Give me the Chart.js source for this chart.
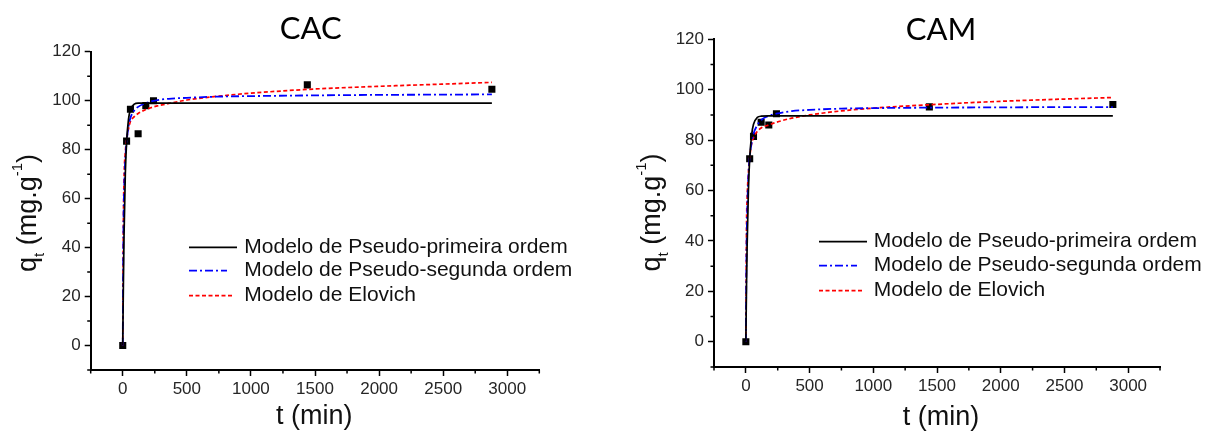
<!DOCTYPE html>
<html>
<head>
<meta charset="utf-8">
<script src="https://cdn.jsdelivr.net/npm/chart.js@4/dist/chart.umd.min.js"></script>
<style>
  html, body { margin: 0; padding: 0; background: #fff; }
  #wrap { position: relative; width: 1220px; height: 433px; overflow: hidden; background: #fff; }
  canvas { position: absolute; top: 0; }
  #cac { left: 0; }
  #cam { left: 620px; }
</style>
</head>
<body>
<div id="wrap">
  <canvas id="cac" width="620" height="433"></canvas>
  <canvas id="cam" width="600" height="433"></canvas>
</div>
<script>
// Panel titles and legend labels
const panelTitles = ['CAC', 'CAM'];
const seriesLabels = [
  'Modelo de Pseudo-primeira ordem',
  'Modelo de Pseudo-segunda ordem',
  'Modelo de Elovich'
];
const xAxisTitle = 't (min)';

// Labelled axis ticks
const xTickValues = [0, 500, 1000, 1500, 2000, 2500, 3000];
const yTickValues = [0, 20, 40, 60, 80, 100, 120];

// Measured adsorption capacity q_t (mg/g) versus contact time (min)
const expTimes = [0, 30, 60, 120, 180, 240, 1440, 2880];
const cacMeasured = [0, 83.5, 96.5, 86.5, 98, 100, 106.5, 104.7];
const camMeasured = [0, 72.6, 81.5, 87.1, 86, 90.5, 93.2, 94.1];

// Kinetic model curves sampled at these times (min)
const modelTimes = [0, 5, 10, 20, 30, 45, 60, 90, 120, 180, 240, 360, 500, 750, 1000, 1500, 2000, 2500, 2880];
const cacPseudoFirst  = [0, 25, 45, 70, 83, 92.5, 96.3, 98.6, 99.0, 99.0, 99.0, 99.0, 99.0, 99.0, 99.0, 99.0, 99.0, 99.0, 99.0];
const cacPseudoSecond = [0, 45, 62, 76, 83, 89.5, 93, 96, 97.5, 99, 100, 100.8, 101.2, 101.7, 101.9, 102.2, 102.4, 102.5, 102.6];
const cacElovich      = [0, 50, 68, 79, 84, 88.5, 91.5, 93.5, 94.8, 96.4, 97.5, 98.9, 100.3, 101.9, 103.1, 104.8, 105.9, 106.8, 107.5];
const camPseudoFirst  = [0, 22, 38, 60, 72.5, 82, 86.3, 89, 89.5, 89.6, 89.6, 89.6, 89.6, 89.6, 89.6, 89.6, 89.6, 89.6, 89.6];
const camPseudoSecond = [0, 35, 50, 66, 73, 79, 82.5, 86, 88, 89.6, 90.5, 91.5, 92.0, 92.5, 92.7, 92.9, 93.0, 93.1, 93.1];
const camElovich      = [0, 45, 57, 67, 73, 78.5, 81, 83.5, 84.8, 86, 87.1, 88.7, 90.0, 91.6, 92.7, 94.2, 95.4, 96.3, 96.9];

const TICK_FONT = { family: '"Liberation Sans", Arial, sans-serif', size: 17 };
const LABEL_FAMILY = '"Liberation Sans", Arial, sans-serif';

const pairs = (xs, ys) => xs.map((x, i) => ({ x, y: ys[i] }));

// Minor ticks, panel title, axis titles (with sub/superscript) and the legend
const decor = {
  id: 'decor',
  afterDraw(chart, args, o) {
    const ctx = chart.ctx;
    const { left, bottom } = chart.chartArea;
    const xs = chart.scales.x, ys = chart.scales.y;
    ctx.save();

    // minor ticks
    ctx.strokeStyle = '#000';
    ctx.lineWidth = 1.5;
    ctx.beginPath();
    for (let v = xs.min; v <= xs.max + 1e-9; v += o.xMinor) {
      if (Math.abs(v % o.xMajor) < 1e-9) continue;
      const px = xs.getPixelForValue(v);
      ctx.moveTo(px, bottom); ctx.lineTo(px, bottom + 3.5);
    }
    for (let v = ys.min; v <= ys.max + 1e-9; v += o.yMinor) {
      if (Math.abs(v % o.yMajor) < 1e-9) continue;
      const py = ys.getPixelForValue(v);
      ctx.moveTo(left, py); ctx.lineTo(left - 3.5, py);
    }
    ctx.stroke();

    // panel title
    ctx.fillStyle = '#000';
    ctx.textAlign = 'center';
    ctx.textBaseline = 'middle';
    ctx.font = '31px Lato, "Open Sans", sans-serif';
    ctx.fillText(o.title, o.titleX, o.titleY);

    // x axis title
    ctx.fillStyle = '#111';
    ctx.font = '27px ' + LABEL_FAMILY;
    ctx.fillText(xAxisTitle, o.xTitleX, o.xTitleY);

    // y axis title: q_t (mg.g^-1), rotated
    const runs = [
      { t: 'q', size: 27, dy: 0 },
      { t: 't', size: 15, dy: 8 },
      { t: ' (mg.g', size: 27, dy: 0 },
      { t: '-1', size: 15, dy: -14 },
      { t: ')', size: 27, dy: 0 }
    ];
    let total = 0;
    runs.forEach(r => { ctx.font = r.size + 'px ' + LABEL_FAMILY; r.w = ctx.measureText(r.t).width; total += r.w; });
    ctx.translate(o.yTitleX, o.yTitleY);
    ctx.rotate(-Math.PI / 2);
    ctx.textAlign = 'left';
    ctx.textBaseline = 'alphabetic';
    let cx = -total / 2;
    runs.forEach(r => {
      ctx.font = r.size + 'px ' + LABEL_FAMILY;
      ctx.fillText(r.t, cx, r.dy);
      cx += r.w;
    });
    ctx.setTransform(1, 0, 0, 1, 0, 0);

    // legend
    ctx.font = '21px ' + LABEL_FAMILY;
    ctx.textBaseline = 'middle';
    ctx.textAlign = 'left';
    for (let i = 0; i < 3; i++) {
      const ds = chart.data.datasets[i];
      const y = o.legendRows[i];
      ctx.beginPath();
      ctx.strokeStyle = ds.borderColor;
      ctx.lineWidth = ds.borderWidth;
      ctx.setLineDash(ds.borderDash || []);
      ctx.moveTo(o.legendLineX, y);
      ctx.lineTo(o.legendLineX + o.legendLineLen[i], y);
      ctx.stroke();
      ctx.setLineDash([]);
      ctx.fillStyle = '#111';
      ctx.fillText(ds.label, o.legendTextX, y);
    }
    ctx.restore();
  }
};

function makePanel(canvasId, cfg) {
  const axisCommon = {
    type: 'linear',
    grid: { drawOnChartArea: false, drawTicks: true, tickLength: 6, tickColor: '#000', tickWidth: 1.5 },
    border: { display: true, color: '#000', width: 2 },
    ticks: { font: TICK_FONT, color: '#262626', autoSkip: false, maxRotation: 0,
             callback: v => String(v) }
  };
  return new Chart(document.getElementById(canvasId), {
    type: 'line',
    data: {
      datasets: [
        { label: seriesLabels[0], data: pairs(modelTimes, cfg.first), borderColor: '#000000', borderWidth: 1.7,
          pointRadius: 0, cubicInterpolationMode: 'monotone', order: 0 },
        { label: seriesLabels[1], data: pairs(modelTimes, cfg.second), borderColor: '#0000ff', borderWidth: 1.8,
          borderDash: [8, 3, 2, 3], pointRadius: 0, cubicInterpolationMode: 'monotone', order: 0 },
        { label: seriesLabels[2], data: pairs(modelTimes, cfg.elovich), borderColor: '#ff0000', borderWidth: 1.7,
          borderDash: [4, 2.5], pointRadius: 0, cubicInterpolationMode: 'monotone', order: 0 },
        { label: 'Experimental', data: pairs(expTimes, cfg.measured), showLine: false, pointStyle: 'rect',
          pointRadius: 5, pointBackgroundColor: '#000', pointBorderWidth: 0, order: 1 }
      ]
    },
    options: {
      responsive: false,
      animation: false,
      devicePixelRatio: 1,
      layout: { padding: cfg.padding },
      plugins: {
        legend: { display: false },
        tooltip: { enabled: false },
        decor: cfg.decor
      },
      scales: {
        x: Object.assign({}, axisCommon, {
          min: -250, max: 3250,
          ticks: Object.assign({}, axisCommon.ticks, { padding: 3 }),
          afterBuildTicks: s => { s.ticks = xTickValues.map(v => ({ value: v })); },
          afterFit: s => { s.height = cfg.xAxisHeight; }
        }),
        y: Object.assign({}, axisCommon, {
          min: -10, max: 120,
          ticks: Object.assign({}, axisCommon.ticks, { padding: 4 }),
          afterBuildTicks: s => { s.ticks = yTickValues.map(v => ({ value: v })); },
          afterFit: s => { s.width = cfg.yAxisWidth; }
        })
      }
    },
    plugins: [decor]
  });
}

makePanel('cac', {
  first: cacPseudoFirst, second: cacPseudoSecond, elovich: cacElovich, measured: cacMeasured,
  padding: { left: 0, right: 80.7, top: 51.8, bottom: 0 },
  xAxisHeight: 63, yAxisWidth: 90.7,
  decor: {
    xMinor: 250, xMajor: 500, yMinor: 10, yMajor: 20,
    title: panelTitles[0], titleX: 310.7, titleY: 29.3,
    xTitleX: 314.3, xTitleY: 416.7,
    yTitleX: 36, yTitleY: 213,
    legendLineX: 189, legendLineLen: [48, 38, 44], legendTextX: 244.3,
    legendRows: [247.3, 270.7, 295.7]
  }
});

makePanel('cam', {
  first: camPseudoFirst, second: camPseudoSecond, elovich: camElovich, measured: camMeasured,
  padding: { left: 0, right: 60, top: 39.3, bottom: 0 },
  xAxisHeight: 66, yAxisWidth: 94,
  decor: {
    xMinor: 250, xMajor: 500, yMinor: 10, yMajor: 20,
    title: panelTitles[1], titleX: 321, titleY: 29.5,
    xTitleX: 321, xTitleY: 417.5,
    yTitleX: 40, yTitleY: 212.5,
    legendLineX: 199, legendLineLen: [48, 38, 44], legendTextX: 253.7,
    legendRows: [241.7, 265.7, 290.7]
  }
});
</script>
</body>
</html>
